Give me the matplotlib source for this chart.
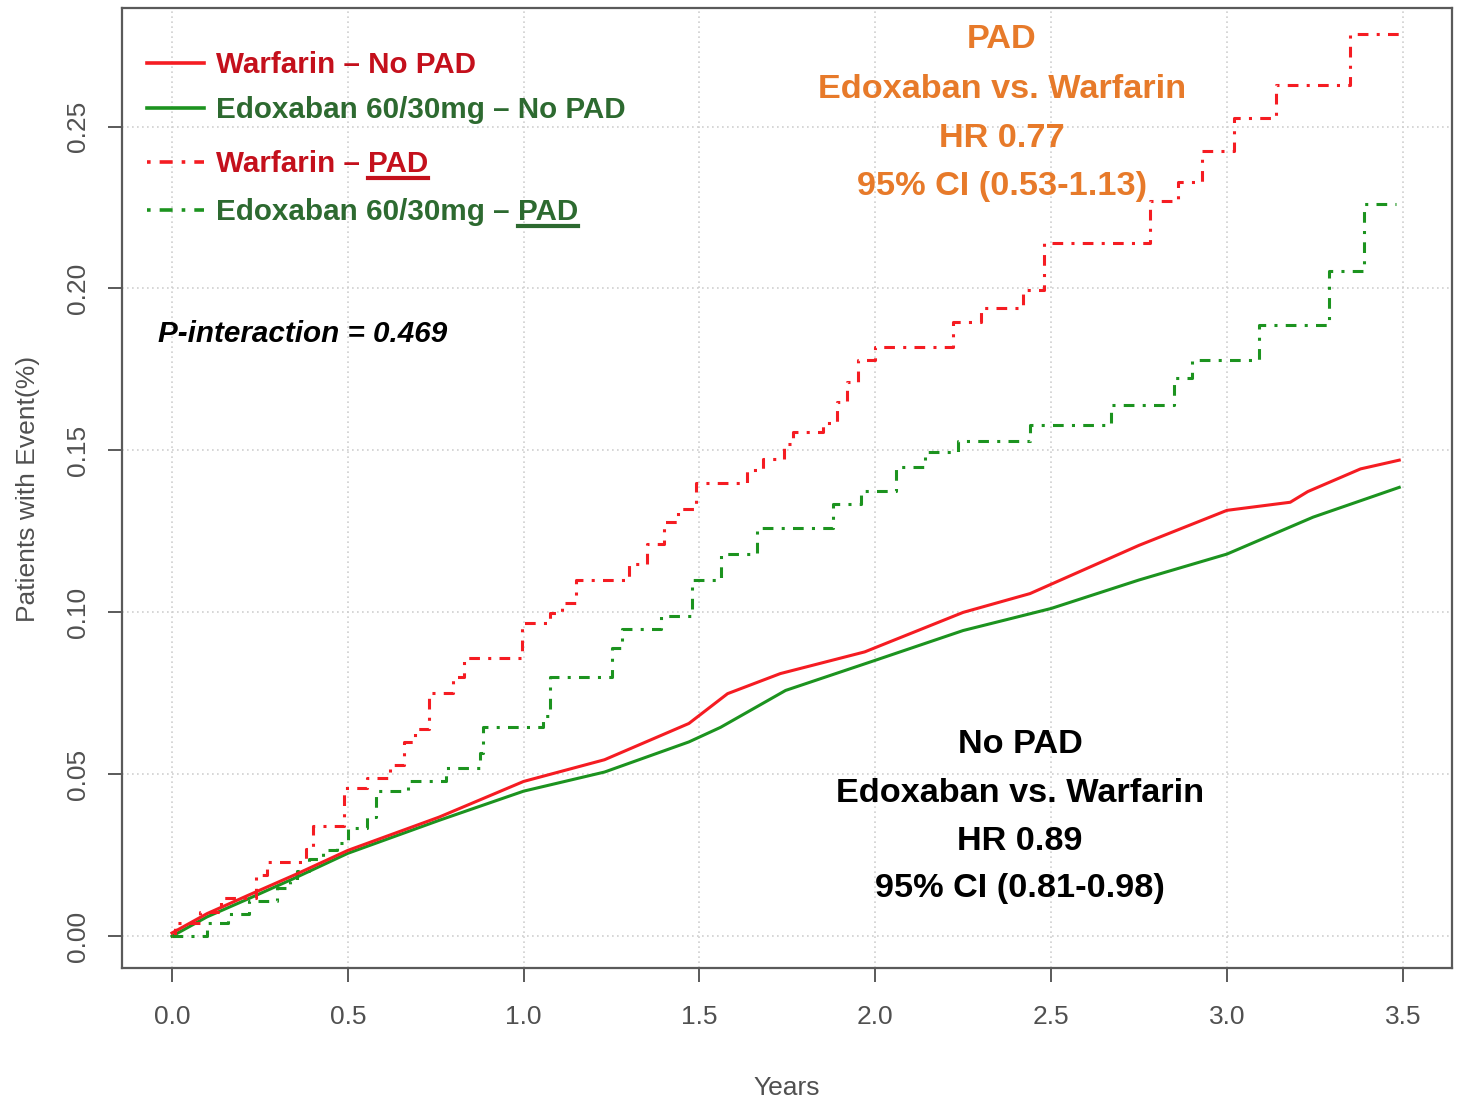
import matplotlib
matplotlib.use("Agg")
import matplotlib.pyplot as plt
from matplotlib import font_manager
from matplotlib.lines import Line2D

# --- data (years, cumulative event rate) ---
warf_nopad_t = [0.00, 0.05, 0.10, 0.22, 0.35, 0.50, 0.76, 1.00, 1.23, 1.47, 1.58, 1.73,
                1.97, 2.25, 2.44, 2.75, 3.00, 3.18, 3.23, 3.38, 3.49]
warf_nopad_y = [0.001, 0.004, 0.007, 0.0128, 0.019, 0.0265, 0.0368, 0.0478, 0.0545, 0.0657,
                0.0749, 0.0811, 0.0878, 0.100, 0.1058, 0.1207, 0.1315, 0.134, 0.1373,
                0.1443, 0.147]

edox_nopad_t = [0.00, 0.05, 0.10, 0.22, 0.35, 0.50, 0.76, 1.00, 1.23, 1.47, 1.56, 1.745,
                2.00, 2.25, 2.50, 2.75, 3.00, 3.245, 3.49]
edox_nopad_y = [0.000, 0.003, 0.006, 0.0117, 0.018, 0.0256, 0.0358, 0.0448, 0.0507, 0.060,
                0.0645, 0.0759, 0.0852, 0.0944, 0.1012, 0.110, 0.118, 0.1294, 0.1386]

warf_pad_t = [0.00, 0.01, 0.08, 0.14, 0.24, 0.27, 0.38, 0.40, 0.49, 0.555, 0.62, 0.66, 0.69,
              0.73, 0.80, 0.83, 0.995, 1.075, 1.11, 1.15, 1.30, 1.35, 1.40, 1.44, 1.49, 1.635,
              1.68, 1.74, 1.765, 1.85, 1.89, 1.92, 1.95, 2.00, 2.22, 2.30, 2.42, 2.48, 2.78,
              2.86, 2.93, 3.02, 3.14, 3.35, 3.50]
warf_pad_y = [0.000, 0.004, 0.0074, 0.0117, 0.019, 0.023, 0.027, 0.034, 0.0457, 0.049, 0.053,
              0.060, 0.064, 0.075, 0.080, 0.086, 0.0966, 0.0997, 0.103, 0.110, 0.115, 0.121,
              0.128, 0.132, 0.140, 0.144, 0.1475, 0.152, 0.1556, 0.1586, 0.165, 0.171, 0.178,
              0.182, 0.1895, 0.194, 0.1994, 0.214, 0.227, 0.233, 0.2426, 0.2525, 0.2627,
              0.2787, 0.2787]

edox_pad_t = [0.00, 0.10, 0.16, 0.22, 0.30, 0.335, 0.355, 0.39, 0.43, 0.47, 0.50, 0.555, 0.58,
              0.67, 0.78, 0.875, 0.885, 1.055, 1.075, 1.25, 1.28, 1.39, 1.48, 1.56, 1.665,
              1.88, 1.96, 2.06, 2.14, 2.235, 2.44, 2.67, 2.85, 2.90, 3.09, 3.29, 3.39, 3.48]
edox_pad_y = [0.000, 0.004, 0.007, 0.011, 0.015, 0.017, 0.020, 0.024, 0.0265, 0.0287, 0.0333,
              0.0367, 0.045, 0.048, 0.052, 0.0565, 0.0645, 0.068, 0.080, 0.089, 0.095, 0.099,
              0.110, 0.118, 0.126, 0.1336, 0.1376, 0.145, 0.1494, 0.153, 0.158, 0.164, 0.1725,
              0.178, 0.1886, 0.2055, 0.226, 0.226]

x_ticks = [0.0, 0.5, 1.0, 1.5, 2.0, 2.5, 3.0, 3.5]
y_ticks = [0.00, 0.05, 0.10, 0.15, 0.20, 0.25]

legend_labels = [("Warfarin \u2013 No PAD", ""),
                 ("Edoxaban 60/30mg \u2013 No PAD", ""),
                 ("Warfarin \u2013 ", "PAD"),
                 ("Edoxaban 60/30mg \u2013 ", "PAD")]

pad_lines = ["PAD", "Edoxaban vs. Warfarin", "HR 0.77", "95% CI (0.53-1.13)"]
nopad_lines = ["No PAD", "Edoxaban vs. Warfarin", "HR 0.89", "95% CI (0.81-0.98)"]

RED = "#f51c22"
GREEN = "#1c931f"
RED_TXT = "#c4101c"
GREEN_TXT = "#2d6a30"
ORANGE = "#e77a2a"
DOTDASH = (3.5, 2.7, 1.0, 2.7)

names = {f.name for f in font_manager.fontManager.ttflist}
narrow = "Liberation Sans Narrow" if "Liberation Sans Narrow" in names else "Liberation Sans"
plt.rcParams['font.family'] = ['Liberation Sans', 'DejaVu Sans']

W, H = 1465, 1104
fig = plt.figure(figsize=(W / 100, H / 100), dpi=100)
L, R, T, B = 122, 1452, 8, 968
ax = fig.add_axes([L / W, 1 - B / H, (R - L) / W, (B - T) / H])


def axfrac(px, py):
    return (px - L) / (R - L), (B - py) / (B - T)


ax.plot(warf_nopad_t, warf_nopad_y, color=RED, lw=2.2, zorder=4)
ax.plot(edox_nopad_t, edox_nopad_y, color=GREEN, lw=2.2, zorder=3)
ax.plot(warf_pad_t, warf_pad_y, color=RED, lw=2.2, drawstyle="steps-post",
        dashes=DOTDASH, zorder=3)
ax.plot(edox_pad_t, edox_pad_y, color=GREEN, lw=2.2, drawstyle="steps-post",
        dashes=DOTDASH, zorder=3)

ax.set_xlim(-0.142, 3.64)
ax.set_ylim(-0.0098, 0.2866)
ax.set_xticks(x_ticks)
ax.set_xticklabels([f"{v:.1f}" for v in x_ticks])
ax.set_yticks(y_ticks)
ax.set_yticklabels([f"{v:.2f}" for v in y_ticks], rotation=90, va="center")
ax.grid(True, linestyle=(0, (1, 2)), color="#cfcfcf", lw=1.2)
ax.set_axisbelow(True)
for s in ax.spines.values():
    s.set_color("#5a5a5a")
    s.set_linewidth(1.6)
ax.tick_params(axis="both", length=10, width=1.4, color="#5a5a5a",
               labelcolor="#505050", labelsize=19)
ax.tick_params(axis="x", pad=17)
ax.tick_params(axis="y", pad=13)
for lab in ax.get_xticklabels() + ax.get_yticklabels():
    lab.set_family([narrow, 'DejaVu Sans'])

fig.text(787 / W, 1 - 1088 / H, "Years", ha="center", va="center", fontsize=19,
         color="#505050", family=[narrow, 'DejaVu Sans'])
fig.text(28 / W, 1 - 489 / H, "Patients with Event(%)", ha="center", va="center",
         rotation=90, fontsize=19, color="#505050")

# legend drawn by hand to allow the underlined "PAD"
leg_rows = [73, 118, 172, 220]
leg_styles = [(RED, "-", RED_TXT), (GREEN, "-", GREEN_TXT),
              (RED, "dd", RED_TXT), (GREEN, "dd", GREEN_TXT)]
leg_size = 21.3
leg_texts = []
for (main, under), py, (lc, ls, tc) in zip(legend_labels, leg_rows, leg_styles):
    x0, yl = axfrac(147, py - 10)
    x1, _ = axfrac(204, py - 10)
    ln = Line2D([x0, x1], [yl, yl], transform=ax.transAxes, color=lc, lw=2.6)
    if ls == "dd":
        ln.set_dashes((1.0, 2.5, 3.6, 2.5))
    ax.add_line(ln)
    tx, ty = axfrac(216, py)
    t = ax.text(tx, ty, main, transform=ax.transAxes, fontsize=leg_size, fontweight="bold",
                color=tc, ha="left", va="baseline")
    leg_texts.append((t, under, tc))

fig.canvas.draw()
rend = fig.canvas.get_renderer()
inv = fig.transFigure.inverted()
for t, under, tc in leg_texts:
    if not under:
        continue
    bb = t.get_window_extent(rend)
    ybase_px = t.get_transform().transform(t.get_position())[1]
    fx = inv.transform((bb.x1, ybase_px))
    # underlined word sits right after the main label on the same baseline
    u = fig.text(fx[0], fx[1], under, fontsize=leg_size, fontweight="bold", color=tc,
                 ha="left", va="baseline")
    ub = u.get_window_extent(rend)
    ya = inv.transform((0, ybase_px - 6))[1]
    xa = inv.transform((ub.x0, 0))[0]
    xb = inv.transform((ub.x1, 0))[0]
    fig.add_artist(Line2D([xa, xb], [ya, ya], transform=fig.transFigure, color=tc, lw=3))

px, py = axfrac(158, 342)
ax.text(px, py, "P-interaction = 0.469", transform=ax.transAxes, fontsize=21.3,
        fontweight="bold", fontstyle="italic", color="black", va="baseline")

for line, base in zip(pad_lines, [48, 98, 147, 195]):
    cx, cy = axfrac(1002, base)
    ax.text(cx, cy, line, transform=ax.transAxes, ha="center", va="baseline",
            fontsize=24.7, fontweight="bold", color=ORANGE)

for line, base in zip(nopad_lines, [753, 802, 850, 897]):
    cx, cy = axfrac(1020, base)
    ax.text(cx, cy, line, transform=ax.transAxes, ha="center", va="baseline",
            fontsize=24.7, fontweight="bold", color="black")

fig.savefig("out.png", dpi=100, facecolor="white")
